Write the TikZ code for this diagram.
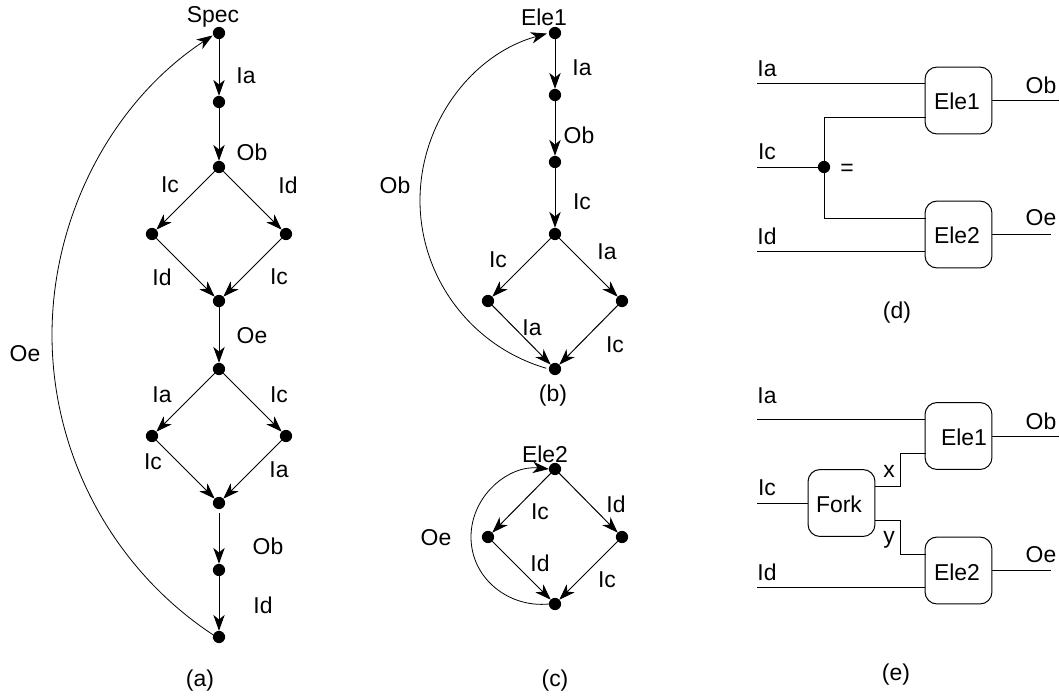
\documentclass[tikz,border=0pt]{standalone}
\usepackage{fontspec}
\setmainfont{Liberation Sans}
\usetikzlibrary{arrows.meta}
\tikzset{
  pt/.style={circle,fill=black,inner sep=0pt,outer sep=0pt,minimum size=9.2pt},
  lbl/.style={inner sep=0pt,outer sep=0pt,font=\fontsize{17.2}{19}\selectfont},
  ln/.style={line width=0.75pt,black},
  tipa/.style={-{Stealth[length=12pt,width=8.5pt,inset=3.5pt]}},
  arw/.style={ln,tipa},
  arcl/.style={line width=0.6pt,black,tipa},
  bx/.style={draw,line width=0.75pt,rounded corners=9pt,minimum width=50.2pt,minimum height=50.2pt,inner sep=0pt,outer sep=0pt}
}
\begin{document}
\begin{tikzpicture}[x=0.75pt,y=-0.75pt]
\useasboundingbox (0,0) rectangle (1060,696);
% (a)
\node[pt] (a1) at (219,33) {};
\node[pt] (a2) at (219,102) {};
\node[pt] (a3) at (219,167) {};
\node[pt] (a4) at (152,234) {};
\node[pt] (a5) at (286,234) {};
\node[pt] (a6) at (219,301) {};
\node[pt] (a7) at (219,369) {};
\node[pt] (a8) at (152,436) {};
\node[pt] (a9) at (286,436) {};
\node[pt] (a10) at (219,503) {};
\node[pt] (a11) at (219,570) {};
\node[pt] (a12) at (219,637) {};
\draw[arw] (a1)--(a2);
\draw[arw] (a2)--(a3);
\draw[arw] (a3)--(a4);
\draw[arw] (a3)--(a5);
\draw[arw] (a4)--(a6);
\draw[arw] (a5)--(a6);
\draw[arw] (a6)--(a7);
\draw[arw] (a7)--(a8);
\draw[arw] (a7)--(a9);
\draw[arw] (a8)--(a10);
\draw[arw] (a9)--(a10);
\draw[arw,shorten <=3pt] (a10)--(a11);
\draw[arw] (a11)--(a12);
\draw[arcl,shorten >=0.5pt]
  (a12.160) .. controls (113.5,569.2) and (52,456) .. (52,335)
  .. controls (52,214) and (113.5,100.8) .. (a1.200);
\node[lbl] (ta1) at (213,17) {Spec};
\node[lbl] (ta2) at (246,76) {Ia};
\node[lbl] (ta3) at (252,152) {Ob};
\node[lbl] (ta4) at (170,185) {Ic};
\node[lbl] (ta5) at (288,185) {Id};
\node[lbl] (ta6) at (162,277) {Id};
\node[lbl] (ta7) at (279,277) {Ic};
\node[lbl] (ta8) at (252,336) {Oe};
\node[lbl] (ta9) at (25,354) {Oe};
\node[lbl] (ta10) at (162,395) {Ia};
\node[lbl] (ta11) at (279,395) {Ic};
\node[lbl] (ta12) at (153,462) {Ic};
\node[lbl] (ta13) at (279,470) {Ia};
\node[lbl] (ta14) at (268,546) {Ob};
\node[lbl] (ta15) at (263,605) {Id};
\node[lbl] (ta16) at (200,681) {(a)};
% (b)
\node[pt] (b1) at (555,33) {};
\node[pt] (b2) at (555,95) {};
\node[pt] (b3) at (555,162) {};
\node[pt] (b4) at (555,234) {};
\node[pt] (b5) at (488,301) {};
\node[pt] (b6) at (622,301) {};
\node[pt] (b7) at (555,369) {};
\draw[arw] (b1)--(b2);
\draw[arw] (b2)--(b3);
\draw[arw] (b3)--(b4);
\draw[arw] (b4)--(b5);
\draw[arw] (b4)--(b6);
\draw[arw] (b5)--(b7);
\draw[arw] (b6)--(b7);
\draw[arcl,shorten <=2pt,shorten >=1.5pt]
  (b7.west) .. controls (472,346.7) and (420,278.4) .. (420,200.5)
  .. controls (420,122.6) and (472,54.3) .. (b1.west);
\node[lbl] (tb1) at (544,17) {Ele1};
\node[lbl] (tb2) at (582,68) {Ia};
\node[lbl] (tb3) at (579,135) {Ob};
\node[lbl] (tb4) at (582,202) {Ic};
\node[lbl] (tb5) at (498,260) {Ic};
\node[lbl] (tb6) at (607,252) {Ia};
\node[lbl] (tb7) at (532,328) {Ia};
\node[lbl] (tb8) at (615,345) {Ic};
\node[lbl] (tb9) at (395,185) {Ob};
\node[lbl] (tb10) at (553,396) {(b)};
% (c)
\node[pt] (c1) at (555,469) {};
\node[pt] (c2) at (488,537) {};
\node[pt] (c3) at (622,537) {};
\node[pt] (c4) at (555,604) {};
\draw[arw] (c1)--(c2);
\draw[arw] (c1)--(c3);
\draw[arw] (c2)--(c4);
\draw[arw] (c3)--(c4);
\draw[arcl]
  (c4.west) .. controls (509,608) and (471,578.7) .. (471,537)
  .. controls (471,495.3) and (509,465) .. (c1.west);
\node[lbl] (tc1) at (545,454) {Ele2};
\node[lbl] (tc2) at (540,512) {Ic};
\node[lbl] (tc3) at (616,504) {Id};
\node[lbl] (tc4) at (436,538) {Oe};
\node[lbl] (tc5) at (540,563) {Id};
\node[lbl] (tc6) at (607,580) {Ic};
\node[lbl] (tc7) at (555,681) {(c)};
% (d)
\node[bx] (d1) at (958.5,100.5) {};
\node[bx] (d2) at (958.5,234.5) {};
\node[pt] (dp) at (824,167) {};
\coordinate (dia) at (757,83.5);
\coordinate (dic) at (757,167);
\coordinate (did) at (757,251);
\coordinate (dob) at (1059,100.5);
\coordinate (doe) at (1051,234.5);
\coordinate (dup) at (925.5,117);
\coordinate (ddn) at (925.5,218);
\draw[ln] (dia) -- (dia -| d1.west);
\draw[ln] (dic) -- (dp);
\draw[ln] (did) -- (did -| d2.west);
\draw[ln] (d1.east) -- (dob);
\draw[ln] (d2.east) -- (doe);
\draw[ln] (dp) |- (dup);
\draw[ln] (dp) |- (ddn);
\node[lbl] (td1) at (767,69) {Ia};
\node[lbl] (td2) at (1041,85) {Ob};
\node[lbl] (td3) at (767,152) {Ic};
\node[lbl] (td4) at (1041,218) {Oe};
\node[lbl] (td5) at (767,236) {Id};
\node[lbl] (td6) at (847,170) {=};
\node[lbl] (td7) at (957,101) {Ele1};
\node[lbl] (td8) at (957,235) {Ele2};
\node[lbl] (td9) at (897,313) {(d)};
% (e)
\node[bx] (e1) at (958.5,436) {};
\node[bx] (e2) at (958.5,570.5) {};
\node[bx] (ef) at (841.5,503) {};
\coordinate (eia) at (757,419);
\coordinate (eic) at (757,503);
\coordinate (eid) at (757,587);
\coordinate (eob) at (1059,436);
\coordinate (eoe) at (1051,570.5);
\coordinate (exa) at (875,486.5);
\coordinate (exb) at (925.5,453);
\coordinate (eya) at (875,520);
\coordinate (eyb) at (925.5,554);
\draw[ln] (eia) -- (eia -| e1.west);
\draw[ln] (eic) -- (ef.west);
\draw[ln] (eid) -- (eid -| e2.west);
\draw[ln] (e1.east) -- (eob);
\draw[ln] (e2.east) -- (eoe);
\draw[ln] (exa) -| (900,453) -- (exb);
\draw[ln] (eya) -| (900,554) -- (eyb);
\node[lbl] (te1) at (767,396) {Ia};
\node[lbl] (te2) at (1041,421) {Ob};
\node[lbl] (te3) at (767,488) {Ic};
\node[lbl] (te4) at (839,504) {Fork};
\node[lbl] (te5) at (889,471) {x};
\node[lbl] (te6) at (889,540) {y};
\node[lbl] (te7) at (767,572) {Id};
\node[lbl] (te8) at (1041,555) {Oe};
\node[lbl] (te9) at (964,437) {Ele1};
\node[lbl] (te10) at (957,572) {Ele2};
\node[lbl] (te11) at (896,675) {(e)};
\end{tikzpicture}
\end{document}
